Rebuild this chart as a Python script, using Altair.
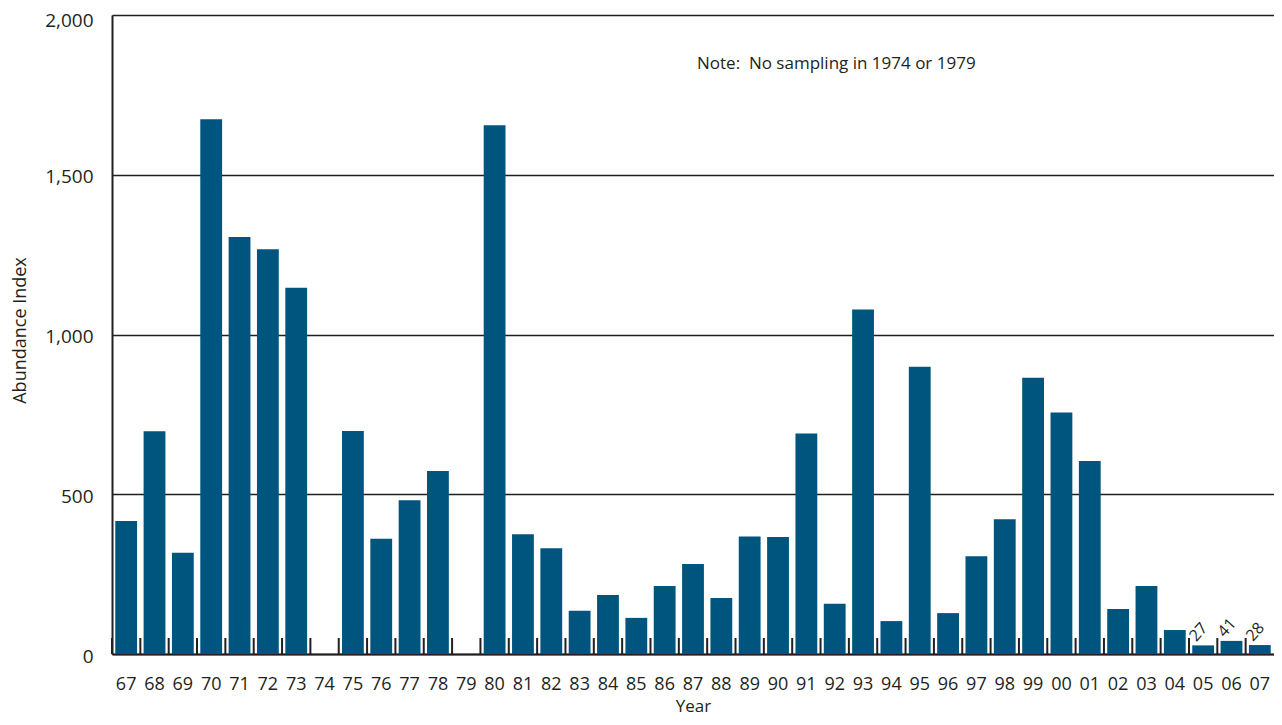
import altair as alt
import pandas as pd

years = ["67", "68", "69", "70", "71", "72", "73", "74", "75", "76", "77", "78", "79",
         "80", "81", "82", "83", "84", "85", "86", "87", "88", "89", "90", "91", "92",
         "93", "94", "95", "96", "97", "98", "99", "00", "01", "02", "03", "04", "05",
         "06", "07"]
values = [416, 697, 317, 1674, 1305, 1267, 1146, None, 698, 361, 481, 573, None,
          1655, 375, 331, 135, 185, 113, 213, 282, 175, 368, 366, 690, 157,
          1078, 103, 899, 128, 306, 422, 865, 756, 604, 141, 213, 75, 27, 41, 28]
labeled_years = ["05", "06", "07"]
y_ticks = [0, 500, 1000, 1500, 2000]
note_text = "Note:\u00a0 No sampling in 1974 or 1979"

df = pd.DataFrame({"year": years, "value": values})
df["label"] = [str(v) if y in labeled_years else "" for y, v in zip(years, values)]

W, H = 1162, 639
PI = 0.23
step = W / len(years)
gap_half = step * PI / 2
INK = "#231f20"
FONT = "Open Sans"

xscale = alt.Scale(domain=years, paddingInner=PI, paddingOuter=PI / 2)
yscale = alt.Scale(domain=[0, 2000], nice=False)

bars = alt.Chart(df).mark_bar(color="#00557f").encode(
    x=alt.X("year:N", scale=xscale, sort=years,
            axis=alt.Axis(title="Year", labelAngle=0, ticks=False, labelPadding=21,
                          labelFontSize=18, labelColor=INK, labelFont=FONT,
                          domainColor=INK, domainWidth=2,
                          titleFontSize=17, titleFont=FONT, titleColor=INK,
                          titleFontWeight="normal", titleY=52, titleBaseline="middle")),
    y=alt.Y("value:Q", scale=yscale,
            axis=alt.Axis(title="Abundance Index", values=y_ticks, format=",d",
                          ticks=False, labelPadding=19, labelFontSize=19,
                          labelOffset={"condition": {"test": "datum.value == 2000", "value": 5},
                                       "value": 2},
                          labelColor=INK, labelFont=FONT,
                          domainColor=INK, domainWidth=2,
                          grid=True, gridColor=INK, gridWidth=1.6, gridOpacity=1,
                          titleFontSize=18, titleFont=FONT, titleColor=INK,
                          titleFontWeight="normal", titleAngle=270,
                          titleX=-92, titleY=315, titleAlign="center",
                          titleBaseline="middle")),
)

ticks = alt.Chart(df).mark_rule(color=INK, strokeWidth=2, xOffset=-gap_half).encode(
    x=alt.X("year:N", scale=xscale, sort=years, bandPosition=0),
    y=alt.value(H - 16),
    y2=alt.value(H),
)

labels = alt.Chart(df).transform_filter("datum.label != ''").mark_text(
    angle=312, align="left", baseline="alphabetic", fontSize=16, font=FONT,
    color=INK, xOffset=4, yOffset=-3,
).encode(
    x=alt.X("year:N", scale=xscale, sort=years, bandPosition=0),
    y=alt.Y("value:Q", scale=yscale),
    text="label:N",
)

note = alt.Chart(pd.DataFrame({"t": [note_text]})).mark_text(
    align="left", baseline="middle", fontSize=17, font=FONT, color=INK,
).encode(
    x=alt.value(585), y=alt.value(49), text="t:N",
)

chart = alt.layer(bars, ticks, labels, note).properties(
    width=W, height=H,
    autosize=alt.AutoSizeParams(type="none"),
    padding={"left": 104, "top": 7, "right": 0, "bottom": 63},
).configure_view(strokeWidth=0).configure(background="white")

chart.save("out.html", embed_options={"renderer": "svg", "actions": False})
